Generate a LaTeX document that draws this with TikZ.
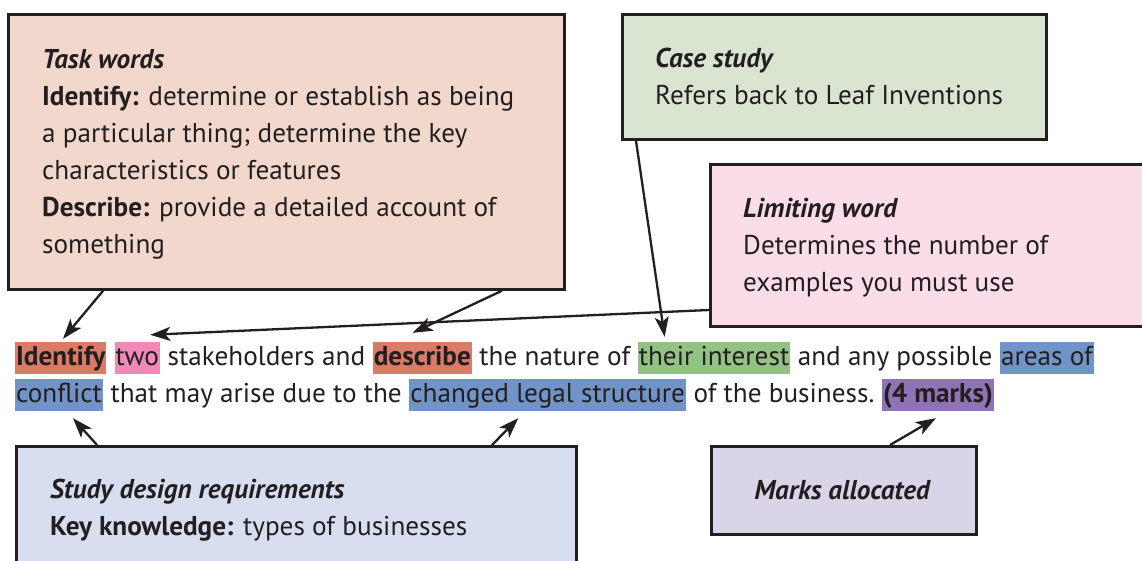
\documentclass[tikz,border=0pt]{standalone}
\usepackage{fontspec}
\setmainfont{PT Sans}
\usetikzlibrary{arrows.meta}
\definecolor{ink}{HTML}{231F20}
\definecolor{taskfill}{HTML}{F2D8CC}
\definecolor{casefill}{HTML}{D9E4D1}
\definecolor{limitfill}{HTML}{FADDE8}
\definecolor{studyfill}{HTML}{D6DEEF}
\definecolor{marksfill}{HTML}{DAD4E8}
\definecolor{hlorange}{HTML}{D97B66}
\definecolor{hlpink}{HTML}{F088B8}
\definecolor{hlgreen}{HTML}{93C285}
\definecolor{hlblue}{HTML}{7094C8}
\definecolor{hlpurple}{HTML}{8E74B4}
% a word space that survives at the edges of a node
\newcommand\wsp{\kern\fontdimen2\font}
\begin{document}
\begin{tikzpicture}[x=1pt,y=-1pt,
  font=\fontsize{27.2}{37}\selectfont, text=ink,
  box/.style={draw=ink, line width=2.8pt, anchor=north west, inner sep=0pt},
  txt/.style={anchor=base west, inner sep=0pt},
  seg/.style={anchor=base west, inner sep=0pt, text height=23pt, text depth=9pt},
  hl/.style={seg, fill=#1, inner xsep=1pt},
  arr/.style={draw=ink, line width=2.3pt, -{Stealth[length=20pt,width=14pt,inset=5pt]}}]
\useasboundingbox (0,0) rectangle (1142,560);
\clip (0,0) rectangle (1142,560);

% callout boxes
\node[box, fill=taskfill,  minimum width=556pt, minimum height=275pt] (task)  at (7,13) {};
\node[box, fill=casefill,  minimum width=424pt, minimum height=125pt] (case)  at (621,13) {};
\node[box, fill=limitfill, minimum width=460pt, minimum height=162pt] (limit) at (709,163) {};
\node[box, fill=studyfill, minimum width=560pt, minimum height=140pt] (study) at (15,445) {};
\node[box, fill=marksfill, minimum width=265pt, minimum height=88pt]  (marks) at (710,445) {};

% task words
\node[txt] (ta) at (42,68)  {\bfseries\itshape Task words};
\node[txt] (tb) at (42,105) {\textbf{Identify:} determine or establish as being};
\node[txt] (tc) at (42,142) {a particular thing; determine the key};
\node[txt] (td) at (42,179) {characteristics or features};
\node[txt] (te) at (42,216) {\textbf{Describe:} provide a detailed account of};
\node[txt] (tf) at (42,253) {something};

% case study
\node[txt] (ca) at (655,67)  {\bfseries\itshape Case study};
\node[txt] (cb) at (655,104) {Refers back to Leaf Inventions};

% limiting word
\node[txt] (la) at (743,217) {\bfseries\itshape Limiting word};
\node[txt] (lb) at (743,254) {Determines the number of};
\node[txt] (lc) at (743,291) {examples you must use};

% study design
\node[txt] (sa) at (50,498) {\bfseries\itshape Study design requirements};
\node[txt] (sb) at (50,535) {\textbf{Key knowledge:} types of businesses};

% marks allocated
\node[anchor=base, inner sep=0pt] (ma) at (842,499) {\bfseries\itshape Marks allocated};

% the question, first line
\node[hl=hlorange] (w1) at (15,365) {\bfseries Identify};
\node[seg] (w2) at (w1.base east) {\wsp};
\node[hl=hlpink] (w3) at (w2.base east) {two};
\node[seg] (w4) at (w3.base east) {\wsp stakeholders and\wsp};
\node[hl=hlorange] (w5) at (w4.base east) {\bfseries describe};
\node[seg] (w6) at (w5.base east) {\wsp the nature of\wsp};
\node[hl=hlgreen] (w7) at (w6.base east) {their interest};
\node[seg] (w8) at (w7.base east) {\wsp and any possible\wsp};
\node[hl=hlblue] (w9) at (w8.base east) {areas of};

% the question, second line
\node[hl=hlblue] (v1) at (15,402) {conflict};
\node[seg] (v2) at (v1.base east) {\wsp that may arise due to the\wsp};
\node[hl=hlblue] (v3) at (v2.base east) {changed legal structure};
\node[seg] (v4) at (v3.base east) {\wsp of the business.\wsp};
\node[hl=hlpurple] (v5) at (v4.base east) {\bfseries (4 marks)};

% connectors
\draw[arr] ([xshift=96pt]task.south west) -- ([xshift=48pt,yshift=3pt]w1.north west);
\draw[arr] ([xshift=-64pt]task.south east) -- ([xshift=40pt,yshift=9pt]w5.north west);
\draw[arr] ([yshift=-147pt]limit.north west) -- ([xshift=36pt,yshift=7pt]w3.north west);
\draw[arr] ([xshift=15pt]case.south west) -- ([xshift=27pt,yshift=5pt]w7.north west);
\draw[arr] ([xshift=82pt]study.north west) -- ([xshift=58pt,yshift=-7pt]v1.south west);
\draw[arr] ([xshift=477pt]study.north west) -- ([xshift=109pt,yshift=-7pt]v3.south west);
\draw[arr] ([xshift=180pt]marks.north west) -- ([xshift=54pt,yshift=-7pt]v5.south west);
\end{tikzpicture}
\end{document}
